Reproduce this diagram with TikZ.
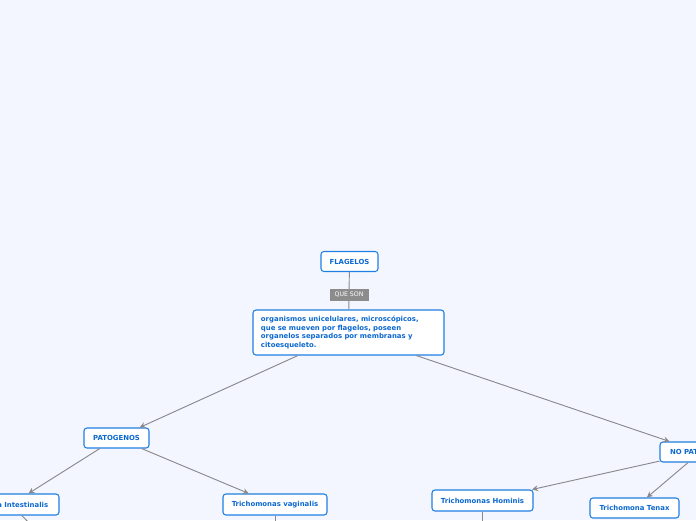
\documentclass[tikz,border=0pt]{standalone}
\usepackage{fontspec}
\setmainfont{DejaVu Sans}
\usepackage{tikz}
\usetikzlibrary{arrows.meta}
\definecolor{MapBg}{HTML}{F3F6FE}
\definecolor{MapBlue}{HTML}{1F7FE3}
\definecolor{MapText}{HTML}{0B68D0}
\definecolor{MapEdge}{HTML}{8A8A8E}
\definecolor{MapTag}{HTML}{8C8C8C}

\tikzset{
  topic/.style={draw=MapBlue, fill=white, line width=0.9pt, rounded corners=2.5pt,
    text=MapText, font=\fontsize{5.9}{7}\selectfont\bfseries,
    minimum height=0.6cm, inner sep=2pt},
  link/.style={draw=MapEdge, line width=0.8pt},
  arrowlink/.style={link, -{Stealth[length=5pt,width=5pt]}},
  tag/.style={fill=MapTag, text=white, font=\fontsize{5.3}{6}\selectfont,
    inner sep=1.5pt, minimum height=0.36cm, minimum width=1.17cm}
}

\begin{document}
\begin{tikzpicture}[x=0.03cm, y=-0.03cm]
      \useasboundingbox (0,0) rectangle (696,520);
      \clip (0,0) rectangle (696,520);
      \fill[MapBg] (0,0) rectangle (696,520);
      %% Main topic and its definition
      \node[topic, minimum width=1.71cm] (flag) at (349.5,261.5) {FLAGELOS};
      \node[topic, text width=5.25cm, minimum height=1.35cm, align=left,
            inner xsep=0.24cm, inner ysep=0.12cm,
            font=\fontsize{5.9}{7.2}\selectfont\bfseries] (def) at (348.5,332.5)
            {organismos unicelulares, microscópicos,\\que se mueven por flagelos, poseen\\organelos separados por membranas y\\citoesqueleto.};
      \draw[link] (flag) -- node[tag, pos=0.6] {QUE SON} (def);
      %% Second level
      \node[topic, minimum width=1.95cm] (pat) at (116.5,438) {PATOGENOS};
      \node[topic, minimum width=2.43cm] (nopat) at (700.5,452) {NO PATOGENOS};
      \draw[arrowlink] (def) -- (pat);
      \draw[arrowlink] (def) -- (nopat);
      %% Third level
      \node[topic, minimum width=2.88cm, minimum height=0.63cm] (giar) at (11,504.5) {Giardia Intestinalis};
      \node[topic, minimum width=3.12cm, minimum height=0.63cm] (vagi) at (275,504.5) {Trichomonas vaginalis};
      \node[topic, minimum width=3.03cm, minimum height=0.63cm] (homi) at (482.5,500.5) {Trichomonas Hominis};
      \node[topic, minimum width=2.67cm] (tena) at (634.5,508) {Trichomona Tenax};
      \draw[arrowlink] (pat) -- (giar);
      \draw[arrowlink] (pat) -- (vagi);
      \draw[arrowlink] (nopat) -- (homi);
      \draw[arrowlink] (nopat) -- (tena);
      %% Branches running off the page
      \coordinate (giarDown) at (34,528);
      \coordinate (vagiDown) at (275,530);
      \coordinate (homiDown) at (482.5,530);
      \draw[link] (giar) -- (giarDown);
      \draw[link] (vagi.south) -- (vagiDown);
      \draw[link] (homi.south) -- (homiDown);
\end{tikzpicture}
\end{document}
